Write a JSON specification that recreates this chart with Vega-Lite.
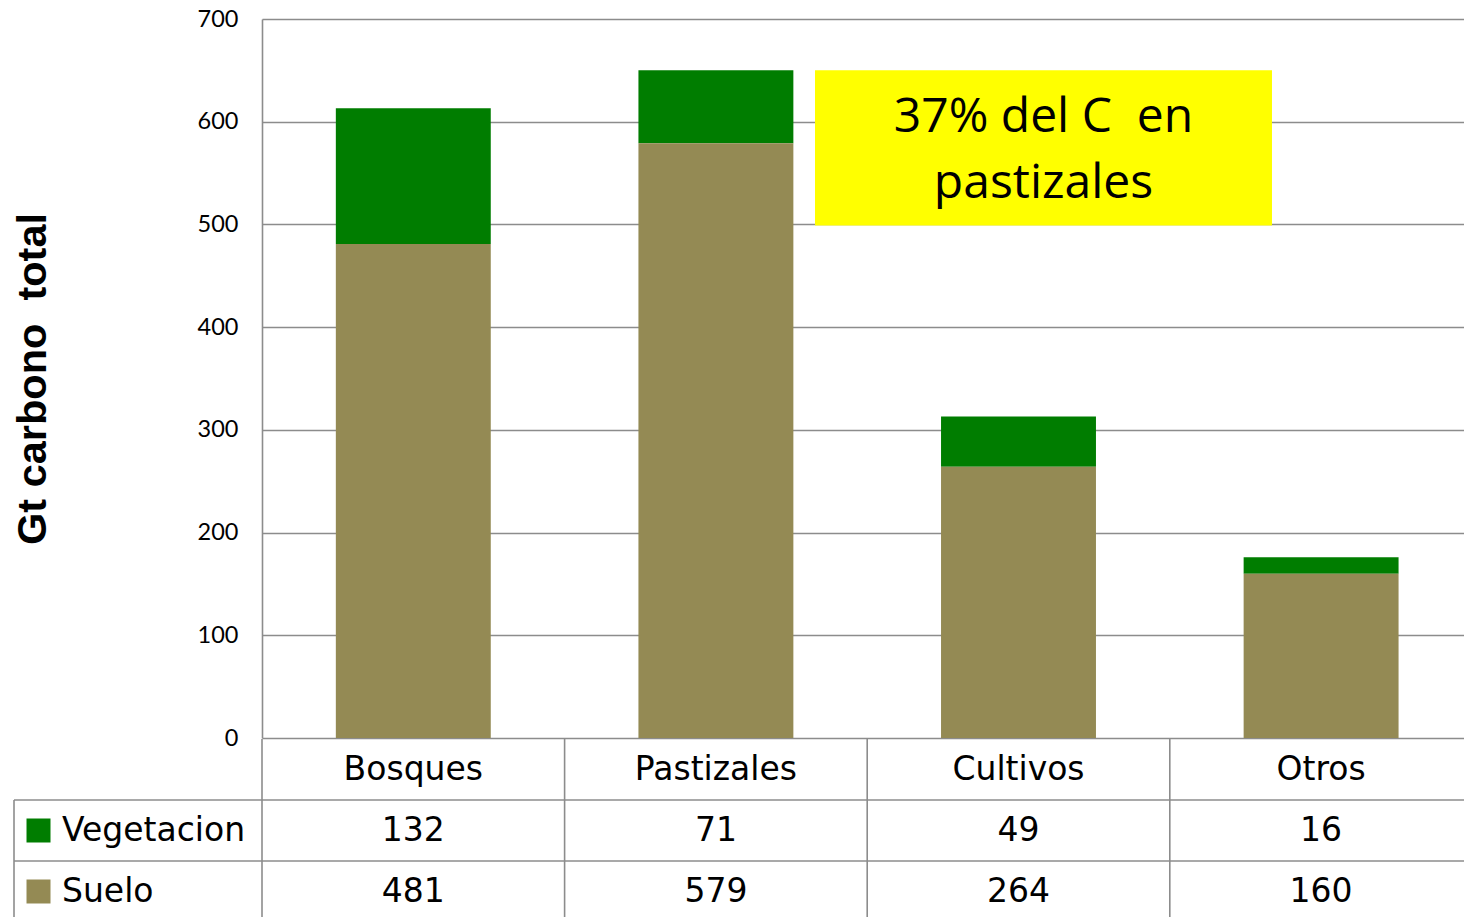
{
  "$schema": "https://vega.github.io/schema/vega-lite/v6.json",
  "width": 1202,
  "height": 898,
  "autosize": {"type": "none"},
  "padding": {"left": 262, "top": 19, "right": 0, "bottom": 0},
  "background": "white",
  "config": {"view": {"stroke": null}},
  "data": {
    "values": [
      {"cat": "Bosques", "comp": "Vegetacion", "value": 132},
      {"cat": "Bosques", "comp": "Suelo", "value": 481},
      {"cat": "Pastizales", "comp": "Vegetacion", "value": 71},
      {"cat": "Pastizales", "comp": "Suelo", "value": 579},
      {"cat": "Cultivos", "comp": "Vegetacion", "value": 49},
      {"cat": "Cultivos", "comp": "Suelo", "value": 264},
      {"cat": "Otros", "comp": "Vegetacion", "value": 16},
      {"cat": "Otros", "comp": "Suelo", "value": 160}
    ]
  },
  "layer": [
    {
      "mark": {"type": "bar"},
      "encoding": {
        "x": {
          "field": "cat", "type": "nominal",
          "scale": {"type": "band", "domain": ["Bosques", "Pastizales", "Cultivos", "Otros"], "range": [0, 1210.4], "paddingInner": 0.488, "paddingOuter": 0.244},
          "axis": null
        },
        "y": {
          "field": "value", "type": "quantitative", "stack": "zero",
          "scale": {"domain": [0, 700], "range": [719, 0], "nice": false},
          "axis": {
            "values": [0, 100, 200, 300, 400, 500, 600, 700],
            "grid": true, "gridColor": "#8C8C8C", "gridWidth": 1.6,
            "domain": true, "domainColor": "#8C8C8C", "domainWidth": 1.6,
            "ticks": false, "labelPadding": 24, "labelFlush": false, "labelOverlap": false, "labelBound": false,
            "labelFont": "Lato", "labelFontSize": 23.5, "labelColor": "black",
            "title": "Gt carbono\u00a0 total", "titleFont": "Liberation Sans", "titleFontSize": 41.5, "titleFontWeight": "bold", "titleColor": "black",
            "titleAngle": -90, "titleX": -229, "titleY": 359.5, "titleAlign": "center", "titleBaseline": "middle"
          }
        },
        "color": {
          "field": "comp", "type": "nominal",
          "scale": {"domain": ["Vegetacion", "Suelo"], "range": ["#007D00", "#948A54"]},
          "legend": null
        },
        "order": {"field": "comp", "sort": "ascending"}
      }
    },
    {
      "layer": [
        {
          "transform": [{"filter": "datum.comp === 'Suelo'"}],
          "mark": {"type": "text", "font": "DejaVu Sans", "fontSize": 33, "color": "black", "baseline": "middle", "align": "center"},
          "encoding": {
            "x": {"field": "cat", "type": "nominal", "scale": {"type": "band", "domain": ["Bosques", "Pastizales", "Cultivos", "Otros"], "range": [0, 1210.4], "paddingInner": 0, "paddingOuter": 0}, "axis": null},
            "y": {"datum": "Categoria", "type": "nominal", "scale": {"type": "band", "domain": ["Categoria", "Vegetacion", "Suelo"], "range": [720, 903], "paddingInner": 0, "paddingOuter": 0}, "axis": null},
            "text": {"field": "cat"}
          }
        },
        {
          "mark": {"type": "text", "font": "DejaVu Sans", "fontSize": 33, "color": "black", "baseline": "middle", "align": "center"},
          "encoding": {
            "x": {"field": "cat", "type": "nominal"},
            "y": {"field": "comp", "type": "nominal"},
            "text": {"field": "value"}
          }
        },
        {
          "transform": [{"filter": "datum.cat === 'Bosques'"}],
          "mark": {"type": "rule", "color": "#8C8C8C", "strokeWidth": 1.6},
          "encoding": {
            "y": {"field": "comp", "type": "nominal", "bandPosition": 0}
          }
        },
        {
          "transform": [{"filter": "datum.comp === 'Suelo'"}],
          "mark": {"type": "rule", "color": "#8C8C8C", "strokeWidth": 1.6},
          "encoding": {
            "x": {"field": "cat", "type": "nominal", "bandPosition": 0},
            "y": {"datum": "Categoria", "type": "nominal", "bandPosition": 0},
            "y2": {"value": "height"}
          }
        }
      ]
    },
    {
      "transform": [{"filter": "datum.cat === 'Bosques'"}],
      "layer": [
        {
          "mark": {"type": "rule", "color": "#8C8C8C", "strokeWidth": 1.6},
          "encoding": {
            "y": {"field": "comp", "type": "nominal", "bandPosition": 0, "scale": {"type": "band", "domain": ["Categoria", "Vegetacion", "Suelo"], "range": [720, 903], "paddingInner": 0, "paddingOuter": 0}, "axis": null},
            "x": {"datum": 0, "type": "quantitative", "scale": {"domain": [0, 1], "range": [-248, 0], "nice": false, "zero": false}, "axis": null},
            "x2": {"datum": 1}
          }
        },
        {
          "transform": [{"filter": "datum.comp === 'Suelo'"}],
          "mark": {"type": "rule", "color": "#8C8C8C", "strokeWidth": 1.6},
          "encoding": {
            "x": {"datum": 0, "type": "quantitative"},
            "y": {"datum": "Vegetacion", "type": "nominal", "bandPosition": 0},
            "y2": {"value": "height"}
          }
        },
        {
          "mark": {"type": "square", "size": 576, "filled": true, "opacity": 1},
          "encoding": {
            "x": {"datum": 0.0988, "type": "quantitative"},
            "y": {"field": "comp", "type": "nominal"},
            "color": {"field": "comp", "type": "nominal", "legend": null}
          }
        },
        {
          "mark": {"type": "text", "font": "DejaVu Sans", "fontSize": 33, "color": "black", "baseline": "middle", "align": "left"},
          "encoding": {
            "x": {"datum": 0.1935, "type": "quantitative"},
            "y": {"field": "comp", "type": "nominal"},
            "text": {"field": "comp"}
          }
        }
      ]
    },
    {
      "data": {"values": [{"note": ["37% del C\u00a0 en", "pastizales"]}]},
      "layer": [
        {
          "mark": {"type": "rect", "color": "#FFFF00"},
          "encoding": {
            "x": {"datum": 1.8275, "type": "quantitative", "scale": {"domain": [0, 4], "range": [0, 1210.4], "nice": false, "zero": false}, "axis": null},
            "x2": {"datum": 3.3377},
            "y": {"datum": 499, "type": "quantitative", "scale": {"domain": [0, 700], "range": [719, 0], "nice": false}, "axis": null},
            "y2": {"datum": 650}
          }
        },
        {
          "mark": {"type": "text", "font": "Open Sans", "fontSize": 48, "lineHeight": 66, "align": "center", "baseline": "middle", "color": "black"},
          "encoding": {
            "x": {"datum": 2.5826, "type": "quantitative"},
            "y": {"datum": 603.5, "type": "quantitative"},
            "text": {"field": "note"}
          }
        }
      ]
    }
  ],
  "resolve": {"scale": {"x": "independent", "y": "independent"}}
}
